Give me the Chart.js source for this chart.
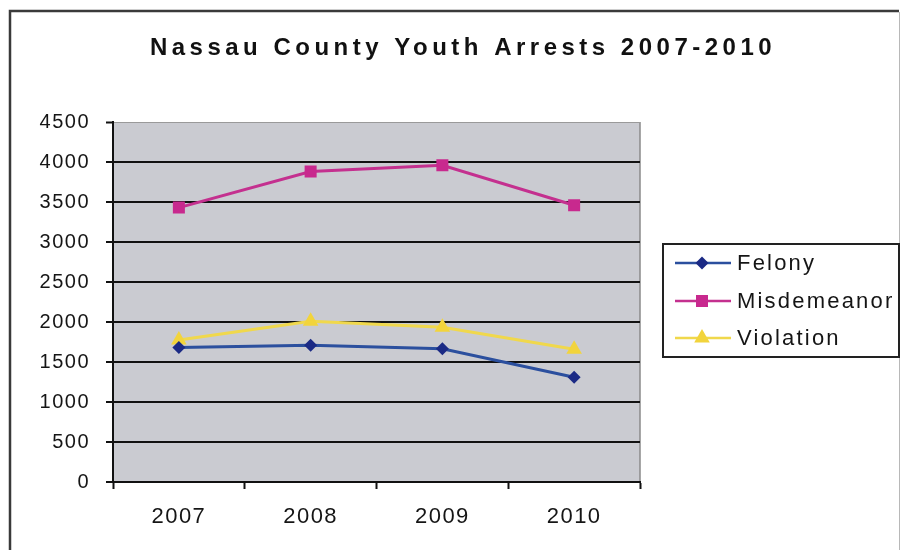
<!DOCTYPE html>
<html>
<head>
<meta charset="utf-8">
<script src="https://cdn.jsdelivr.net/npm/chart.js@4/dist/chart.umd.min.js"></script>
<style>
  html, body { margin: 0; padding: 0; background: #fff; }
  #wrap { position: relative; width: 901px; height: 550px; }
</style>
</head>
<body>
<div id="wrap"><canvas id="c"></canvas></div>
<script>
const chartTitle = 'Nassau County Youth Arrests 2007-2010';
const years = ['2007', '2008', '2009', '2010'];
const felony = [1680, 1710, 1665, 1310];
const misdemeanor = [3430, 3880, 3960, 3460];
const violation = [1775, 2010, 1935, 1660];
const seriesNames = ['Felony', 'Misdemeanor', 'Violation'];
const yTicks = [0, 500, 1000, 1500, 2000, 2500, 3000, 3500, 4000, 4500];

const FONT = '"Liberation Sans", Arial, sans-serif';

function marker(ctx, style, x, y, r, color) {
  ctx.save();
  ctx.fillStyle = color;
  ctx.beginPath();
  if (style === 'rectRot') {
    ctx.moveTo(x - r, y); ctx.lineTo(x, y - r); ctx.lineTo(x + r, y); ctx.lineTo(x, y + r);
  } else if (style === 'rect') {
    const s = r * Math.SQRT1_2;
    ctx.rect(x - s, y - s, 2 * s, 2 * s);
  } else {
    ctx.moveTo(x, y - r); ctx.lineTo(x + r * 0.866, y + r * 0.5); ctx.lineTo(x - r * 0.866, y + r * 0.5);
  }
  ctx.closePath();
  ctx.fill();
  ctx.restore();
}

const framePlugin = {
  id: 'frame',
  beforeDraw(chart) {
    const ctx = chart.ctx;
    const a = chart.chartArea;
    ctx.save();
    ctx.letterSpacing = '0px';
    ctx.strokeStyle = '#3a3a3a';
    ctx.lineWidth = 2.5;
    ctx.beginPath();
    ctx.moveTo(10, 600); ctx.lineTo(10, 11); ctx.lineTo(899, 11);
    ctx.stroke();
    ctx.strokeStyle = '#b8b8b8';
    ctx.lineWidth = 1;
    ctx.beginPath(); ctx.moveTo(899.5, 12); ctx.lineTo(899.5, 600); ctx.stroke();
    ctx.fillStyle = 'rgb(202,203,209)';
    ctx.fillRect(a.left, a.top, a.right - a.left, a.bottom - a.top);
    ctx.strokeStyle = '#8a8a8a';
    ctx.lineWidth = 1.5;
    ctx.beginPath(); ctx.moveTo(a.right, a.top); ctx.lineTo(a.right, a.bottom); ctx.stroke();
    ctx.restore();
    ctx.letterSpacing = '1.5px';
  },
  afterDraw(chart) {
    const ctx = chart.ctx;
    ctx.save();
    ctx.letterSpacing = '4.5px';
    ctx.font = 'bold 24px ' + FONT;
    ctx.fillStyle = '#111';
    ctx.textAlign = 'center';
    ctx.textBaseline = 'alphabetic';
    ctx.fillText(chartTitle, 463, 55);
    ctx.letterSpacing = '0px';
    ctx.strokeStyle = '#222';
    ctx.lineWidth = 2;
    ctx.strokeRect(663, 244, 236, 113);
    const ys = [263, 301, 338];
    chart.data.datasets.forEach((ds, i) => {
      const y = ys[i];
      ctx.strokeStyle = ds.borderColor;
      ctx.lineWidth = 2.5;
      ctx.beginPath(); ctx.moveTo(675, y); ctx.lineTo(731, y); ctx.stroke();
      marker(ctx, ds.pointStyle, 702, y, ds.pointRadius, ds.pointBackgroundColor);
      ctx.letterSpacing = '2.2px';
      ctx.font = '22px ' + FONT;
      ctx.fillStyle = '#151515';
      ctx.textAlign = 'left';
      ctx.textBaseline = 'middle';
      ctx.fillText(ds.label, 737, y + 1);
      ctx.letterSpacing = '0px';
    });
    ctx.restore();
  }
};

new Chart(document.getElementById('c'), {
  type: 'line',
  data: {
    labels: years,
    datasets: [
      { label: seriesNames[0], data: felony, borderColor: '#2b4f9e', borderWidth: 3,
        pointStyle: 'rectRot', pointRadius: 6.5, pointBackgroundColor: '#1b2a85', pointBorderWidth: 0, tension: 0 },
      { label: seriesNames[1], data: misdemeanor, borderColor: '#c4308f', borderWidth: 3,
        pointStyle: 'rect', pointRadius: 8.5, pointBackgroundColor: '#c8298e', pointBorderWidth: 0, tension: 0 },
      { label: seriesNames[2], data: violation, borderColor: '#f0d84c', borderWidth: 3,
        pointStyle: 'triangle', pointRadius: 9, pointBackgroundColor: '#f2d43c', pointBorderWidth: 0, tension: 0 }
    ]
  },
  options: {
    responsive: true,
    maintainAspectRatio: false,
    animation: false,
    devicePixelRatio: 1,
    layout: { padding: { left: 0, top: 122, right: 261, bottom: 0 } },
    plugins: {
      legend: { display: false },
      title: { display: false },
      tooltip: { enabled: false }
    },
    scales: {
      x: {
        offset: true,
        afterFit(s) { s.height = 68; },
        grid: { offset: true, drawOnChartArea: false, drawTicks: true, tickLength: 7, tickColor: '#111', tickWidth: 2 },
        border: { display: true, color: '#111', width: 2 },
        ticks: { color: '#151515', font: { family: FONT, size: 22 }, padding: 15 }
      },
      y: {
        min: 0, max: 4500,
        afterFit(s) { s.width = 113; },
        afterBuildTicks(s) { s.ticks = yTicks.map(v => ({ value: v })); },
        grid: {
          color: c => (c.tick && c.tick.value === 4500) ? '#9a9a9a' : '#111',
          lineWidth: c => (c.tick && c.tick.value === 4500) ? 1 : 2,
          drawTicks: true, tickLength: 7, tickColor: '#111', tickWidth: 2
        },
        border: { display: true, color: '#111', width: 2 },
        ticks: { color: '#151515', font: { family: FONT, size: 20 }, padding: 16,
                 callback: v => String(v) }
      }
    }
  },
  plugins: [framePlugin]
});
</script>
</body>
</html>
